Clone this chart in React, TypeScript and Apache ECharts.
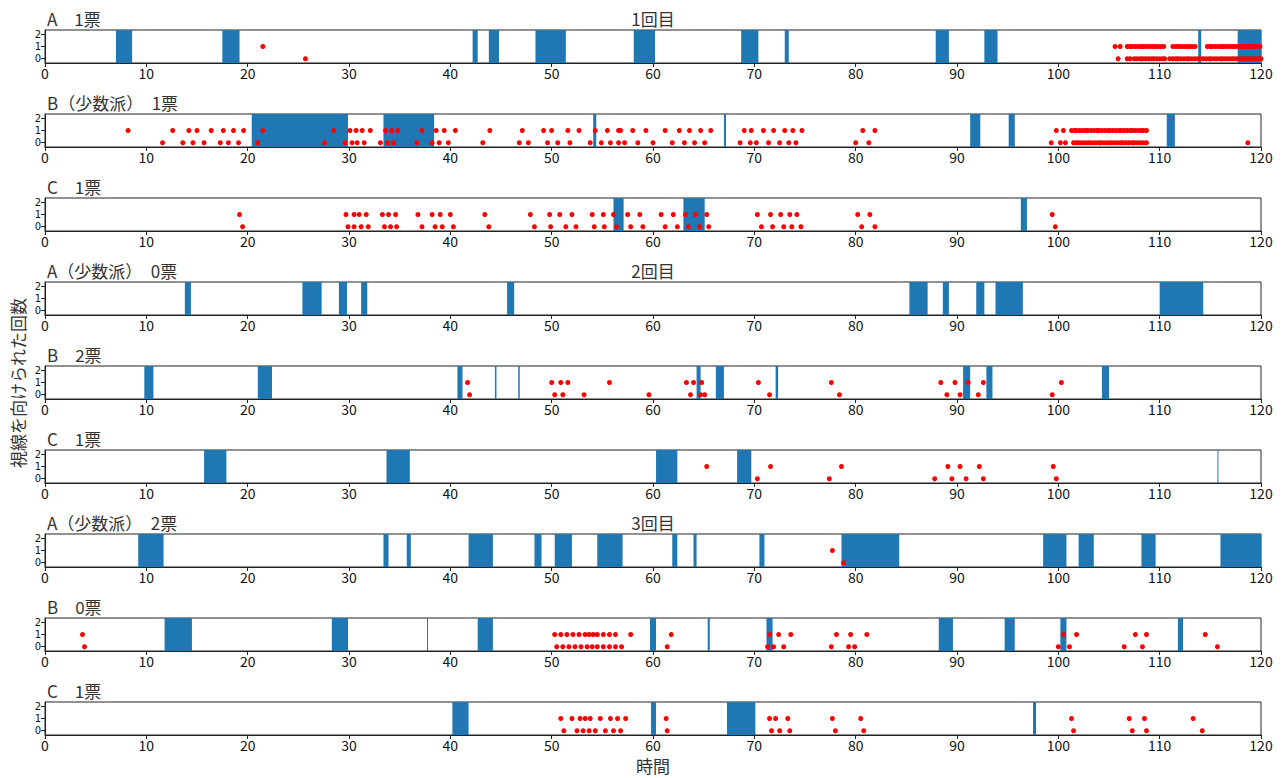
import React, { useEffect, useRef } from "react";
import * as echarts from "echarts";

const FONT = '"Noto Sans CJK JP", "Noto Sans", sans-serif';
const TICK_FONT_Y = '"DejaVu Sans", sans-serif';

const X_MIN = 0;
const X_MAX = 120;
const X_INTERVAL = 10;
const Y_TICKS_OUTER = [0, 2];
const Y_TICKS_INNER = [1];

const PANEL_TITLES = [
  "A　1票",
  "B（少数派）　1票",
  "C　1票",
  "A（少数派）　0票",
  "B　2票",
  "C　1票",
  "A（少数派）　2票",
  "B　0票",
  "C　1票",
];
const ROUND_TITLES = ["1回目", "2回目", "3回目"];
const X_LABEL = "時間";
const Y_LABEL = "視線を向けられた回数";

// blue spans: [start, end]
const spans1 = [[7.0, 8.6], [17.5, 19.2], [42.2, 42.7], [43.8, 44.8], [48.4, 51.4], [58.1, 60.2], [68.7, 70.4], [73.0, 73.4], [87.9, 89.2], [92.7, 94.0], [113.8, 114.1], [117.7, 120]];
const spans2 = [[20.4, 29.9], [33.4, 38.4], [54.1, 54.4], [67.0, 67.2], [91.3, 92.3], [95.1, 95.7], [110.7, 111.5]];
const spans3 = [[56.1, 57.1], [63.0, 65.1], [96.3, 96.9]];
const spans4 = [[13.8, 14.4], [25.4, 27.3], [29.0, 29.8], [31.2, 31.8], [45.6, 46.3], [85.3, 87.1], [88.6, 89.2], [91.9, 92.7], [93.8, 96.5], [110.0, 114.3]];
const spans5 = [[9.8, 10.7], [21.0, 22.4], [40.7, 41.2], [44.4, 44.55], [46.7, 46.85], [64.3, 64.7], [66.2, 67.0], [72.1, 72.35], [90.6, 91.3], [92.9, 93.5], [104.3, 105.0]];
const spans6 = [[15.7, 17.9], [33.7, 36.0], [60.3, 62.4], [68.3, 69.7], [115.7, 115.8]];
const spans7 = [[9.2, 11.7], [33.4, 33.9], [35.7, 36.1], [41.8, 44.2], [48.3, 49.0], [50.3, 52.0], [54.5, 57.0], [61.9, 62.4], [64.0, 64.3], [70.5, 71.0], [78.6, 84.3], [98.5, 100.8], [102.0, 103.5], [108.2, 109.6], [116.0, 120]];
const spans8 = [[11.8, 14.5], [28.3, 29.9], [37.7, 37.8], [42.7, 44.2], [59.7, 60.3], [65.4, 65.6], [71.2, 71.8], [88.2, 89.6], [94.7, 95.7], [100.2, 100.8], [111.8, 112.3]];
const spans9 = [[40.2, 41.8], [59.8, 60.3], [67.3, 70.1], [97.5, 97.8]];

// red dots at y = 1
const ones1 = [21.5, 105.6, 106.1, 106.8, 107.1, 107.3, 107.6, 107.9, 108.2, 108.4, 108.7, 109.0, 109.3, 109.5, 109.8, 110.1, 110.4, 111.3, 111.6, 111.8, 112.1, 112.4, 112.7, 113.0, 113.2, 113.5, 114.7, 115.0, 115.2, 115.5, 115.8, 116.1, 116.3, 116.6, 116.9, 117.2, 117.4, 117.7, 118.0, 118.3, 118.5, 118.8, 119.1, 119.4, 119.6, 119.9];
const ones2 = [8.2, 12.6, 14.2, 15.0, 16.4, 17.6, 18.6, 19.6, 21.5, 28.5, 30.1, 30.7, 31.3, 32.1, 33.6, 34.2, 34.8, 37.2, 38.6, 39.4, 40.5, 43.9, 47.1, 49.2, 50.0, 51.6, 52.7, 54.3, 55.5, 56.6, 56.8, 58.0, 59.3, 61.2, 62.6, 63.6, 64.7, 65.7, 69.0, 69.7, 70.9, 71.9, 73.0, 73.8, 74.7, 80.7, 81.9, 99.8, 100.5, 101.3, 101.6, 101.8, 102.1, 102.4, 102.7, 102.9, 103.2, 103.5, 103.8, 104.0, 104.3, 104.6, 104.9, 105.1, 105.4, 105.7, 106.0, 106.2, 106.5, 106.8, 107.1, 107.3, 107.6, 107.9, 108.2, 108.4, 108.7];
const ones3 = [19.2, 29.7, 30.5, 31.0, 31.7, 33.3, 33.9, 34.6, 36.8, 38.2, 39.0, 40.0, 43.4, 47.9, 49.8, 50.8, 52.0, 54.0, 55.1, 56.1, 57.5, 58.7, 60.8, 62.0, 63.2, 64.2, 65.3, 70.3, 71.6, 72.6, 73.5, 74.2, 80.2, 81.4, 99.4];
const ones4: number[] = [];
const ones5 = [41.7, 50.0, 50.9, 51.6, 55.7, 63.3, 64.0, 64.8, 70.4, 77.6, 88.4, 89.8, 91.1, 92.6, 100.3];
const ones6 = [65.3, 71.6, 78.6, 89.1, 90.3, 92.2, 99.5];
const ones7 = [77.7];
const ones8 = [3.7, 50.3, 50.9, 51.5, 52.1, 52.7, 53.3, 53.7, 54.1, 54.5, 55.1, 55.7, 56.3, 57.8, 61.8, 71.5, 72.4, 73.6, 78.1, 79.5, 81.1, 100.5, 101.8, 107.6, 108.7, 114.5];
const ones9 = [50.9, 52.0, 52.8, 53.3, 53.8, 54.8, 55.8, 56.5, 57.3, 61.3, 71.5, 72.1, 73.3, 77.7, 80.5, 101.3, 107.0, 108.5, 113.3];

// red dots at y = 0
const zeros1 = [25.7, 105.9, 106.8, 107.1, 107.5, 107.8, 108.1, 108.3, 108.6, 108.9, 109.2, 109.4, 109.7, 110.0, 110.3, 110.5, 111.0, 111.3, 111.6, 111.8, 112.1, 112.4, 112.7, 112.9, 113.2, 113.5, 113.8, 114.0, 114.3, 114.6, 114.9, 115.1, 115.4, 115.7, 116.0, 116.2, 116.5, 116.8, 117.1, 117.3, 117.6, 117.9, 118.2, 118.4, 118.7, 119.0, 119.3, 119.5, 119.8, 120.0];
const zeros2 = [11.6, 13.6, 14.6, 15.7, 17.3, 18.1, 19.1, 21.0, 27.6, 29.6, 30.3, 30.8, 31.5, 33.1, 33.8, 34.4, 36.7, 38.2, 38.9, 39.8, 43.2, 46.8, 47.7, 49.6, 50.6, 51.8, 53.8, 54.9, 55.8, 56.6, 57.2, 58.5, 60.0, 61.9, 63.1, 64.1, 65.1, 68.6, 69.6, 70.2, 71.4, 72.5, 73.4, 74.1, 80.0, 81.3, 99.3, 100.2, 100.7, 101.5, 101.8, 102.0, 102.3, 102.6, 102.9, 103.1, 103.4, 103.7, 104.0, 104.2, 104.5, 104.8, 105.1, 105.3, 105.6, 105.9, 106.2, 106.4, 106.7, 107.0, 107.3, 107.5, 107.8, 108.1, 108.4, 108.7, 118.7];
const zeros3 = [19.5, 29.9, 30.5, 31.2, 31.9, 33.5, 34.1, 34.7, 37.2, 38.5, 39.2, 40.3, 43.8, 48.3, 49.9, 51.4, 52.4, 54.2, 55.2, 56.4, 57.8, 59.0, 61.2, 62.4, 63.5, 64.6, 65.5, 70.7, 71.8, 72.9, 73.7, 74.6, 80.6, 81.9, 99.7];
const zeros4: number[] = [];
const zeros5 = [41.9, 50.3, 51.1, 53.2, 59.6, 63.7, 64.7, 65.1, 71.5, 78.4, 89.0, 90.3, 92.1, 99.4];
const zeros6 = [70.3, 77.4, 87.8, 89.5, 90.9, 92.6, 99.8];
const zeros7 = [78.8];
const zeros8 = [3.9, 50.5, 51.1, 51.7, 52.3, 52.9, 53.5, 54.0, 54.5, 55.1, 55.7, 56.3, 56.9, 61.4, 71.3, 71.9, 72.9, 77.6, 79.3, 79.9, 100.0, 101.1, 106.5, 108.3, 115.7];
const zeros9 = [51.2, 52.5, 53.1, 53.7, 54.3, 55.3, 56.1, 56.8, 61.4, 71.7, 72.5, 73.5, 78.0, 80.8, 101.5, 107.3, 108.7, 114.2];

const SPANS = [spans1, spans2, spans3, spans4, spans5, spans6, spans7, spans8, spans9];
const ONES = [ones1, ones2, ones3, ones4, ones5, ones6, ones7, ones8, ones9];
const ZEROS = [zeros1, zeros2, zeros3, zeros4, zeros5, zeros6, zeros7, zeros8, zeros9];

const Y_MIN = -0.35;
const Y_MAX = 2.35;

const GRID_LEFT = 45;
const GRID_WIDTH = 1216;
const GRID_TOP0 = 30;
const GRID_STEP = 84;
const GRID_HEIGHT = 33;

function yAxisFor(i: number, ticks: number[], showLine: boolean) {
  return {
    type: "value",
    gridIndex: i,
    position: "left",
    min: Y_MIN,
    max: Y_MAX,
    axisLine: { show: showLine, onZero: false, lineStyle: { color: "#222", width: 1 } },
    axisTick: { show: true, length: 4, customValues: ticks, lineStyle: { color: "#222" } },
    axisLabel: {
      fontSize: 10,
      lineHeight: 10,
      color: "#111",
      margin: 4,
      fontFamily: TICK_FONT_Y,
      customValues: ticks,
      hideOverlap: false,
      showMinLabel: true,
      showMaxLabel: true,
    },
    splitLine: { show: false },
  };
}

function buildOption() {
  const grids: any[] = [];
  const xAxes: any[] = [];
  const yAxes: any[] = [];
  const series: any[] = [];
  const graphics: any[] = [];

  SPANS.forEach((spans, i) => {
    const top = GRID_TOP0 + GRID_STEP * i;
    grids.push({
      left: GRID_LEFT,
      top,
      width: GRID_WIDTH,
      height: GRID_HEIGHT,
      show: true,
      borderColor: "#222",
      borderWidth: 1,
      backgroundColor: "#fff",
    });
    xAxes.push({
      type: "value",
      gridIndex: i,
      min: X_MIN,
      max: X_MAX,
      interval: X_INTERVAL,
      axisLine: { show: true, onZero: false, lineStyle: { color: "#222", width: 1 } },
      axisTick: { show: true, length: 4, lineStyle: { color: "#222" } },
      axisLabel: { fontSize: 14, color: "#111", margin: 3, fontFamily: FONT, hideOverlap: false },
      splitLine: { show: false },
    });
    yAxes.push(yAxisFor(i, Y_TICKS_OUTER, true));
    yAxes.push(yAxisFor(i, Y_TICKS_INNER, false));
    series.push({
      type: "custom",
      xAxisIndex: i,
      yAxisIndex: 2 * i,
      z: 1,
      silent: true,
      data: spans,
      encode: { x: [0, 1] },
      renderItem: (params: any, api: any) => {
        const a = api.coord([api.value(0), Y_MAX]);
        const b = api.coord([api.value(1), Y_MIN]);
        const w = Math.max(b[0] - a[0], 1);
        return {
          type: "rect",
          shape: { x: a[0], y: a[1], width: w, height: b[1] - a[1] },
          style: { fill: "#1f77b4" },
        };
      },
    });
    series.push({
      type: "scatter",
      xAxisIndex: i,
      yAxisIndex: 2 * i,
      z: 3,
      symbolSize: 5,
      itemStyle: { color: "#ff0000", opacity: 1 },
      silent: true,
      data: [...ONES[i].map((x) => [x, 1]), ...ZEROS[i].map((x) => [x, 0])],
    });
    graphics.push({
      type: "text",
      x: GRID_LEFT + 2,
      y: top - 12,
      style: {
        text: PANEL_TITLES[i],
        font: `17px ${FONT}`,
        fill: "#333",
        textAlign: "left",
        textVerticalAlign: "middle",
      },
    });
    if (i % 3 === 0) {
      graphics.push({
        type: "text",
        x: GRID_LEFT + GRID_WIDTH / 2,
        y: top - 12,
        style: {
          text: ROUND_TITLES[i / 3],
          font: `17px ${FONT}`,
          fill: "#333",
          textAlign: "center",
          textVerticalAlign: "middle",
        },
      });
    }
  });

  graphics.push({
    type: "text",
    x: GRID_LEFT + GRID_WIDTH / 2,
    y: 765,
    style: {
      text: X_LABEL,
      font: `17px ${FONT}`,
      fill: "#333",
      textAlign: "center",
      textVerticalAlign: "middle",
    },
  });
  graphics.push({
    type: "text",
    x: 17,
    y: 383,
    rotation: Math.PI / 2,
    style: {
      text: Y_LABEL,
      font: `17px ${FONT}`,
      fill: "#333",
      textAlign: "center",
      textVerticalAlign: "middle",
    },
  });

  return {
    animation: false,
    backgroundColor: "#fff",
    grid: grids,
    xAxis: xAxes,
    yAxis: yAxes,
    series,
    graphic: graphics,
  };
}

export default function App() {
  const ref = useRef<HTMLDivElement>(null);
  useEffect(() => {
    if (!ref.current) return;
    const chart = echarts.init(ref.current, null, { renderer: "svg" });
    chart.setOption(buildOption() as any);
    return () => chart.dispose();
  }, []);
  return (
    <div
      ref={ref}
      style={{ position: "fixed", left: 0, top: 0, width: 1288, height: 778, background: "#fff" }}
    />
  );
}
